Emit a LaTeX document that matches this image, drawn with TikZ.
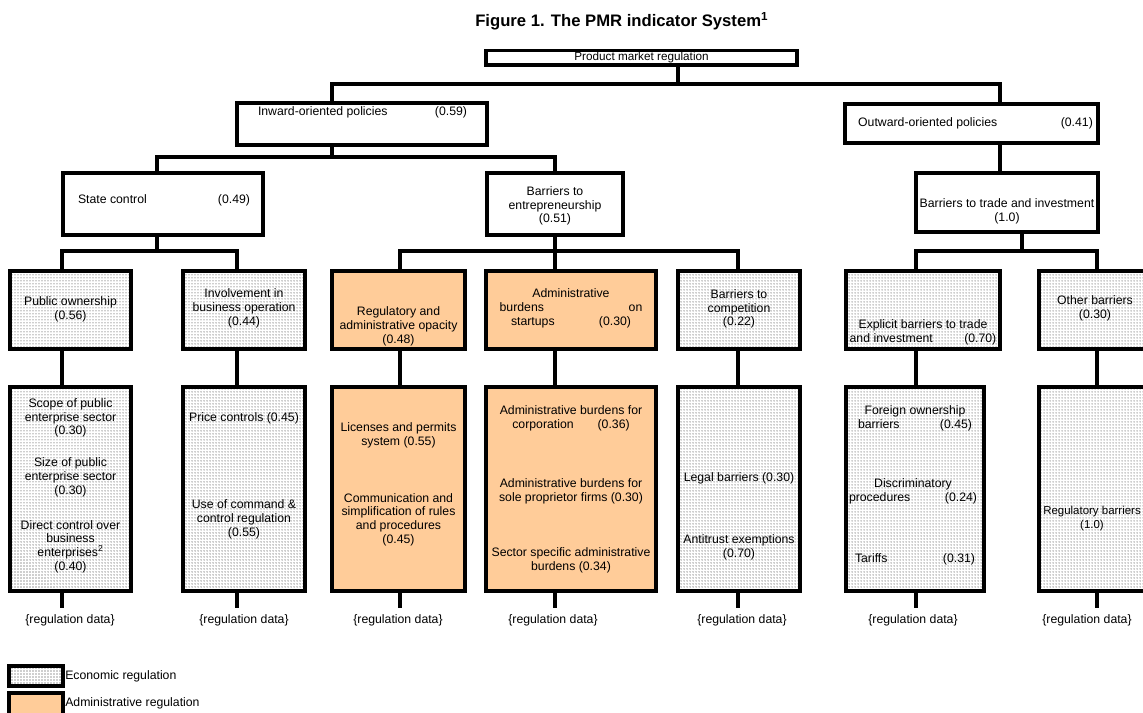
\documentclass[tikz,border=0pt]{standalone}
\usepackage{fontspec}
\setmainfont{Liberation Sans}
\usetikzlibrary{fit,patterns.meta}
\definecolor{peach}{HTML}{FFCC99}
\begin{document}
\begin{tikzpicture}[x=0.75pt,y=-0.75pt,
  base/.style={draw=black, line width=2.3pt, inner sep=0pt},
  ebox/.style={base, pattern={Dots[distance=2.25pt,radius=0.38pt]}, pattern color=black!80},
  abox/.style={base, fill=peach},
  wbox/.style={base, fill=white},
  conn/.style={draw=black, line width=2.3pt},
  txt/.style={align=center, inner sep=0pt, font=\fontsize{9.2}{10.3}\selectfont},
  ltxt/.style={txt, anchor=west}]
\useasboundingbox (0,0) rectangle (1143,713);
\fill[white] (0,0) rectangle (1143,713);

% title
\node[anchor=west, inner sep=0pt, font=\bfseries\fontsize{12.5}{14}\selectfont] (title) at (475,21) {Figure 1. The PMR indicator System\textsuperscript{1}};

% level 0
\node[wbox, fit={(486,50.5) (797,65)}] (pmr) {};
\node[txt, font=\fontsize{8.8}{10}\selectfont] (pmrt) at (641.5,57.5) {Product market regulation};

% level 1
\node[wbox, fit={(237,103) (487,145)}] (inw) {};
\node[txt] (inwt) at (362.5,112) {\makebox[156.75pt]{Inward-oriented policies\hfill(0.59)}};
\node[wbox, fit={(845,104) (1098,143)}] (out) {};
\node[txt] (outt) at (975.5,123) {\makebox[176pt]{Outward-oriented policies\hfill(0.41)}};

% level 2
\node[wbox, fit={(63,173) (263,235)}] (sc) {};
\node[txt] (sct) at (164,200) {\makebox[129pt]{State control\hfill(0.49)}};
\node[wbox, fit={(487,173) (623,235)}] (be) {};
\node[txt] (bet) at (555,206) {Barriers to\\entrepreneurship\\(0.51)};
\node[wbox, fit={(916,173) (1098,232)}] (btt) {};
\node[txt] (bttt) at (1007,211) {Barriers to trade and investment\\(1.0)};

% level 3
\node[ebox, fit={(10,271) (131,349)}] (po) {};
\node[txt] (pot) at (70.5,309.5) {Public ownership\\(0.56)};
\node[ebox, fit={(183,271) (305,349)}] (ib) {};
\node[txt] (ibt) at (244,308.5) {Involvement in\\business operation\\(0.44)};
\node[abox, fit={(332,271) (465,349)}] (ro) {};
\node[txt] (rot) at (398.5,326.5) {Regulatory and\\administrative opacity\\(0.48)};
\node[abox, fit={(486,271) (656,349)}] (ab) {};
\node[txt] (abt) at (571,308.5) {Administrative\\\makebox[107pt]{burdens\hfill on}\\\makebox[90pt]{startups\hfill(0.30)}};
\node[ebox, fit={(678,271) (800,349)}] (bc) {};
\node[txt] (bct) at (739,309) {Barriers to\\competition\\(0.22)};
\node[ebox, fit={(846,271) (1000,349)}] (eb) {};
\node[txt] (ebt) at (923,332.5) {Explicit barriers to trade\\\makebox[110pt]{and investment\hfill(0.70)}};
\node[ebox, fit={(1039,271) (1155,349)}] (ob) {};
\node[txt] (obt) at (1095,308.5) {Other barriers\\(0.30)};

% level 4
\node[ebox, fit={(10,387) (131,591)}] (pol) {};
\node[txt] (pol1) at (70.5,418) {Scope of public\\enterprise sector\\(0.30)};
\node[txt] (pol2) at (70.5,477.5) {Size of public\\enterprise sector\\(0.30)};
\node[txt] (pol3) at (70.5,546.5) {Direct control over\\business\\enterprises\textsuperscript{2}\\(0.40)};
\node[ebox, fit={(183,387) (305,591)}] (ibl) {};
\node[txt] (ibl1) at (244,418) {Price controls (0.45)};
\node[txt] (ibl2) at (244,519.5) {Use of command \&\\control regulation\\(0.55)};
\node[abox, fit={(332,387) (465,591)}] (rol) {};
\node[txt] (rol1) at (398.5,435) {Licenses and permits\\system (0.55)};
\node[txt] (rol2) at (398.5,519.5) {Communication and\\simplification of rules\\and procedures\\(0.45)};
\node[abox, fit={(486,387) (656,591)}] (abl) {};
\node[txt] (abl1) at (571,418) {Administrative burdens for\\\makebox[88pt]{corporation\hfill(0.36)}};
\node[txt] (abl2) at (571,491.5) {Administrative burdens for\\sole proprietor firms (0.30)};
\node[txt] (abl3) at (571,560) {Sector specific administrative\\burdens (0.34)};
\node[ebox, fit={(678,387) (800,591)}] (bcl) {};
\node[txt] (bcl1) at (739,478) {Legal barriers (0.30)};
\node[txt] (bcl2) at (739,547) {Antitrust exemptions\\(0.70)};
\node[ebox, fit={(846,387) (984,591)}] (ebl) {};
\node[txt] (ebl1) at (915,418.5) {Foreign ownership\\\makebox[85.5pt]{barriers\hfill(0.45)}};
\node[txt] (ebl2) at (913,491.5) {Discriminatory\\\makebox[96pt]{procedures\hfill(0.24)}};
\node[txt] (ebl3) at (915,559) {\makebox[90pt]{Tariffs\hfill(0.31)}};
\node[ebox, fit={(1039,387) (1155,591)}] (obl) {};
\node[txt, font=\fontsize{8.6}{10.3}\selectfont] (obl1) at (1092,518.5) {Regulatory barriers\\(1.0)};

% regulation data labels
\coordinate (d1) at (62,608);
\coordinate (d2) at (237,608);
\coordinate (d3) at (400,608);
\coordinate (d4) at (555,608);
\coordinate (d5) at (738,608);
\coordinate (d6) at (916,608);
\coordinate (d7) at (1097,608);
\node[txt] (r1) at (70,620) {\{regulation data\}};
\node[txt] (r2) at (244,620) {\{regulation data\}};
\node[txt] (r3) at (398,620) {\{regulation data\}};
\node[txt] (r4) at (553,620) {\{regulation data\}};
\node[txt] (r5) at (742,620) {\{regulation data\}};
\node[txt] (r6) at (913,620) {\{regulation data\}};
\node[txt] (r7) at (1087,620) {\{regulation data\}};

% legend
\node[ebox, fit={(9,666) (63,686)}] (leg1) {};
\node[ltxt] (leg1t) at (65,676) {Economic regulation};
\node[abox, fit={(9,693) (63,718)}] (leg2) {};
\node[ltxt] (leg2t) at (65,703) {Administrative regulation};

% connectors level 0-1
\coordinate (j0) at (678,84);
\coordinate (k1) at (332,84);
\coordinate (k2) at (1000,84);
\draw[conn] (pmr.south -| j0) -- (j0);
\draw[conn] (inw.north -| k1) -- (k1) -- (k2) -- (out.north -| k2);

% level 1-2
\coordinate (k3) at (332,157);
\coordinate (k4) at (157,157);
\coordinate (k5) at (555,157);
\draw[conn] (inw.south -| k3) -- (k3);
\draw[conn] (sc.north -| k4) -- (k4) -- (k5) -- (be.north -| k5);
\draw[conn] (out.south -| k2) -- (btt.north -| k2);

% level 2-3
\coordinate (m1) at (157,251);
\coordinate (m2) at (62,251);
\coordinate (m3) at (237,251);
\draw[conn] (sc.south -| m1) -- (m1);
\draw[conn] (po.north -| m2) -- (m2) -- (m3) -- (ib.north -| m3);
\coordinate (m4) at (555,251);
\coordinate (m5) at (400,251);
\coordinate (m6) at (738,251);
\draw[conn] (be.south -| m4) -- (m4);
\draw[conn] (ro.north -| m5) -- (m5) -- (m6) -- (bc.north -| m6);
\draw[conn] (ab.north -| m4) -- (m4);
\coordinate (m7) at (1022,251);
\coordinate (m8) at (916,251);
\coordinate (m9) at (1097,251);
\draw[conn] (btt.south -| m7) -- (m7);
\draw[conn] (eb.north -| m8) -- (m8) -- (m9) -- (ob.north -| m9);

% level 3-4
\draw[conn] (po.south -| m2) -- (pol.north -| m2);
\draw[conn] (ib.south -| m3) -- (ibl.north -| m3);
\draw[conn] (ro.south -| m5) -- (rol.north -| m5);
\draw[conn] (ab.south -| m4) -- (abl.north -| m4);
\draw[conn] (bc.south -| m6) -- (bcl.north -| m6);
\draw[conn] (eb.south -| m8) -- (ebl.north -| m8);
\draw[conn] (ob.south -| m9) -- (obl.north -| m9);

% level 4-data
\draw[conn] (pol.south -| d1) -- (d1);
\draw[conn] (ibl.south -| d2) -- (d2);
\draw[conn] (rol.south -| d3) -- (d3);
\draw[conn] (abl.south -| d4) -- (d4);
\draw[conn] (bcl.south -| d5) -- (d5);
\draw[conn] (ebl.south -| d6) -- (d6);
\draw[conn] (obl.south -| d7) -- (d7);
\end{tikzpicture}
\end{document}
